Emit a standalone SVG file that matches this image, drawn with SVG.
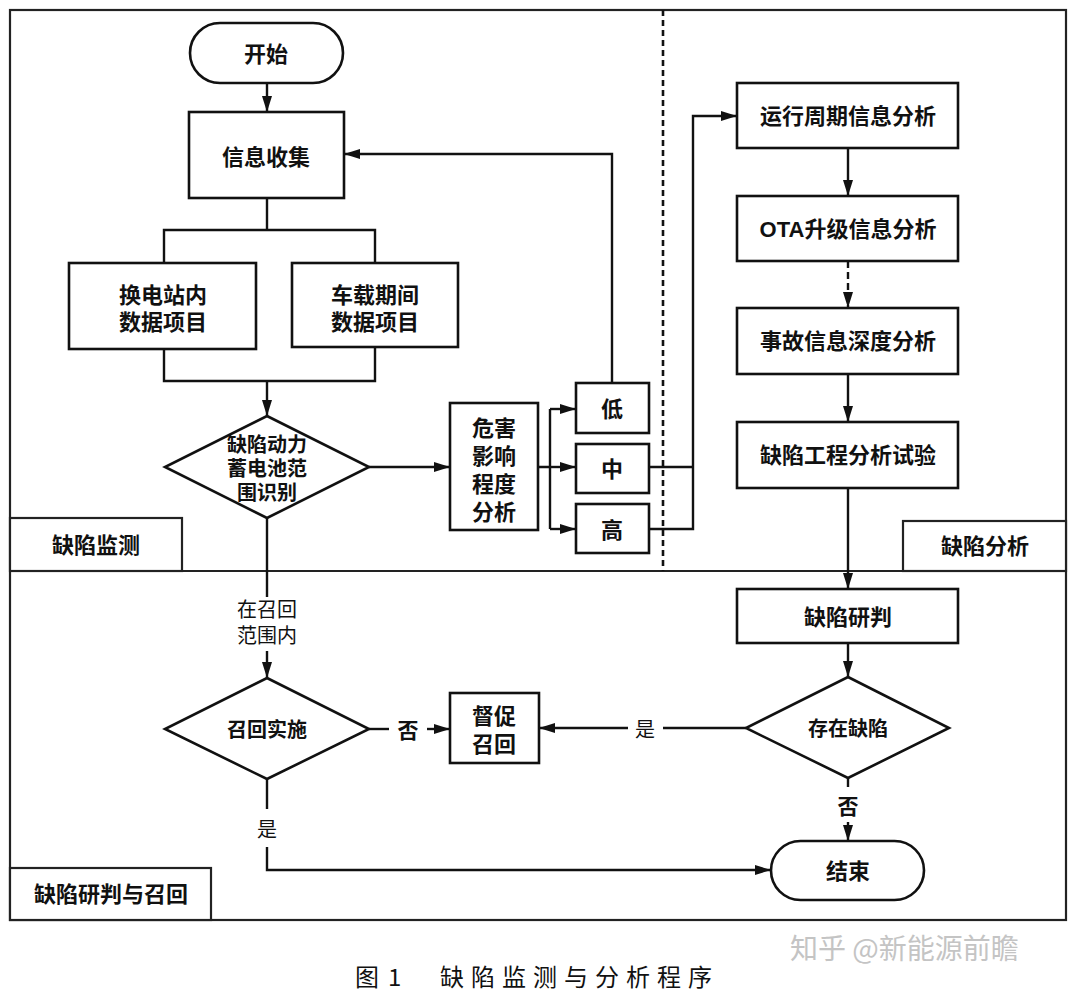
<svg xmlns="http://www.w3.org/2000/svg" width="1080" height="993" viewBox="0 0 1080 993">
<defs>
<style>
.frame{fill:none;stroke:#222;stroke-width:2.2}
.node{fill:#fff;stroke:#111;stroke-width:2.6}
.lbl{fill:#fff;stroke:#222;stroke-width:2.2}
.t{font-family:"Liberation Sans","Noto Sans CJK SC",sans-serif;font-weight:700;font-size:22px;fill:#111;text-anchor:middle;dominant-baseline:central}
.tn{font-family:"Liberation Sans","Noto Sans CJK SC",sans-serif;font-weight:400;font-size:20px;fill:#111;text-anchor:middle;dominant-baseline:central}
.c{fill:none;stroke:#111;stroke-width:2.4}
.a{marker-end:url(#arr)}
.d{stroke-dasharray:7 4}
</style>
<marker id="arr" viewBox="0 0 16 10" refX="16" refY="5" markerWidth="16" markerHeight="10" markerUnits="userSpaceOnUse" orient="auto">
<path d="M0,0 L16,5 L0,10 z" fill="#111"/>
</marker>
</defs>
<rect width="1080" height="993" fill="#fff"/>

<g id="frame">
<rect class="frame" x="10" y="10" width="1056" height="910"/>
<line class="frame" x1="10" y1="571" x2="1066" y2="571"/>
<line x1="663" y1="10" x2="663" y2="571" stroke="#111" stroke-width="2.6" stroke-dasharray="6 4"/>
</g>

<g id="lane-monitor">
<rect class="lbl" x="10" y="518" width="172" height="53"/>
<text class="t" x="96" y="545">缺陷监测</text>
</g>
<g id="lane-analysis">
<rect class="lbl" x="903" y="521" width="163" height="50"/>
<text class="t" x="985" y="546">缺陷分析</text>
</g>
<g id="lane-recall">
<rect class="lbl" x="10" y="868" width="201" height="52"/>
<text class="t" x="111" y="894">缺陷研判与召回</text>
</g>

<g id="connectors">
<path class="c a" d="M267 83 V112"/>
<path class="c" d="M267 198 V230 M164 263 V230 H375 V263"/>
<path class="c" d="M164 349 V381 H375 V347"/>
<path class="c a" d="M267 381 V416"/>
<path class="c a" d="M369 467 H450"/>
<path class="c" d="M538 467 H550 M550 409 V529"/>
<path class="c a" d="M550 409 H576"/>
<path class="c a" d="M550 467 H576"/>
<path class="c a" d="M550 529 H576"/>
<path class="c a" d="M612 383 V154 H344"/>
<path class="c" d="M649 467 H693"/>
<path class="c a" d="M649 529 H693 V116 H737"/>
<path class="c a" d="M848 148 V196"/>
<path class="c a d" d="M848 261 V308"/>
<path class="c a" d="M848 374 V422"/>
<path class="c a" d="M848 488 V589"/>
<path class="c a" d="M848 643 V677"/>
<path class="c" d="M267 518 V597"/>
<path class="c a" d="M267 651 V678"/>
<path class="c" d="M369 729 H389"/>
<path class="c a" d="M427 729 H450"/>
<path class="c" d="M746 728 H663"/>
<path class="c a" d="M628 728 H539"/>
<path class="c" d="M267 779 V809"/>
<path class="c a" d="M267 847 V870 H771"/>
<path class="c" d="M848 778 V787"/>
<path class="c a" d="M848 822 V841"/>
<text class="tn" x="267" y="610"><tspan x="267" y="610">在召回</tspan><tspan x="267" y="636">范围内</tspan></text>
<text class="t" x="408" y="730" style="font-size:21px">否</text>
<text class="tn" x="645" y="730">是</text>
<text class="tn" x="267" y="830">是</text>
<text class="t" x="848" y="806" style="font-size:21px">否</text>
</g>

<g id="start">
<rect class="node" x="190" y="23" width="153" height="60" rx="30"/>
<text class="t" x="266" y="54">开始</text>
</g>
<g id="collect">
<rect class="node" x="189" y="112" width="155" height="86"/>
<text class="t" x="266" y="157">信息收集</text>
</g>
<g id="station">
<rect class="node" x="69" y="263" width="187" height="86"/>
<text class="t" x="163" y="295"><tspan x="163" y="295">换电站内</tspan><tspan x="163" y="322">数据项目</tspan></text>
</g>
<g id="vehicle">
<rect class="node" x="292" y="263" width="166" height="84"/>
<text class="t" x="375" y="295"><tspan x="375" y="295">车载期间</tspan><tspan x="375" y="322">数据项目</tspan></text>
</g>
<g id="identify">
<polygon class="node" points="267,416 369,467 267,518 165,467"/>
<text class="t" x="267" y="445" style="font-size:20px"><tspan x="267" y="445">缺陷动力</tspan><tspan x="267" y="469">蓄电池范</tspan><tspan x="267" y="493">围识别</tspan></text>
</g>
<g id="hazard">
<rect class="node" x="450" y="403" width="88" height="127"/>
<text class="t" x="494" y="428"><tspan x="494" y="428">危害</tspan><tspan x="494" y="456">影响</tspan><tspan x="494" y="484">程度</tspan><tspan x="494" y="512">分析</tspan></text>
</g>
<g id="low">
<rect class="node" x="576" y="383" width="73" height="50"/>
<text class="t" x="612" y="409">低</text>
</g>
<g id="mid">
<rect class="node" x="576" y="444" width="73" height="49"/>
<text class="t" x="612" y="469">中</text>
</g>
<g id="high">
<rect class="node" x="576" y="504" width="73" height="49"/>
<text class="t" x="612" y="530">高</text>
</g>
<g id="cycle">
<rect class="node" x="737" y="83" width="221" height="65"/>
<text class="t" x="848" y="116">运行周期信息分析</text>
</g>
<g id="ota">
<rect class="node" x="737" y="196" width="221" height="65"/>
<text class="t" x="848" y="229">OTA升级信息分析</text>
</g>
<g id="accident">
<rect class="node" x="737" y="308" width="221" height="66"/>
<text class="t" x="848" y="341">事故信息深度分析</text>
</g>
<g id="test">
<rect class="node" x="737" y="422" width="221" height="66"/>
<text class="t" x="848" y="455">缺陷工程分析试验</text>
</g>
<g id="judge">
<rect class="node" x="737" y="589" width="221" height="54"/>
<text class="t" x="848" y="617">缺陷研判</text>
</g>
<g id="exists">
<polygon class="node" points="848,677 949,728 848,778 746,728"/>
<text class="t" x="848" y="729" style="font-size:20px">存在缺陷</text>
</g>
<g id="implement">
<polygon class="node" points="267,678 369,729 267,779 165,729"/>
<text class="t" x="267" y="730" style="font-size:20px">召回实施</text>
</g>
<g id="urge">
<rect class="node" x="450" y="693" width="89" height="70"/>
<text class="t" x="494" y="716"><tspan x="494" y="716">督促</tspan><tspan x="494" y="744">召回</tspan></text>
</g>
<g id="end">
<rect class="node" x="771" y="841" width="153" height="59" rx="29.5"/>
<text class="t" x="848" y="871">结束</text>
</g>

<g id="caption">
<text x="355" y="975" font-family="Noto Sans CJK SC, Liberation Sans, sans-serif" font-size="24" fill="#111" dominant-baseline="central">图</text>
<text x="388" y="975" font-family="Noto Sans CJK SC, Liberation Sans, sans-serif" font-size="24" fill="#111" dominant-baseline="central">1</text>
<text x="440" y="975" font-family="Noto Sans CJK SC, Liberation Sans, sans-serif" font-size="24" letter-spacing="7" fill="#111" dominant-baseline="central">缺陷监测与分析程序</text>
</g>
<g id="watermark">
<text x="790" y="947" font-family="Noto Sans CJK SC, Liberation Sans, sans-serif" font-size="28" fill="#c4c4c4" dominant-baseline="central">知乎 @新能源前瞻</text>
</g>
</svg>
